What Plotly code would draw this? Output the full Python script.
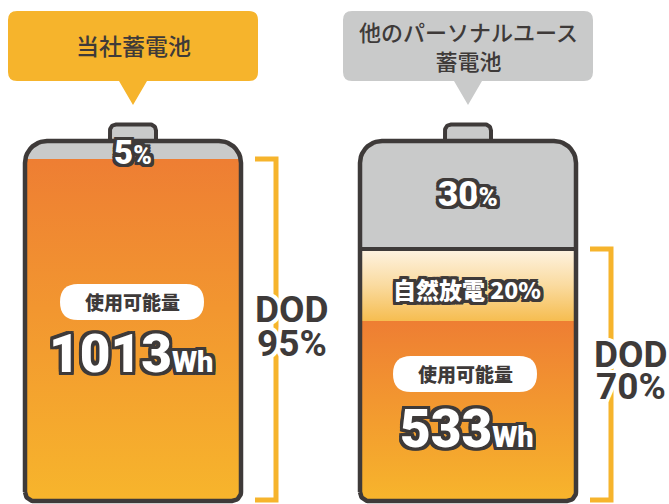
import numpy as np
import plotly.graph_objects as go

# ---------------- data ----------------
batteries = ["当社蓄電池", "他のパーソナルユース蓄電池"]
callout_lines = [["当社蓄電池"], ["他のパーソナルユース", "蓄電池"]]
usable_pct = [95, 50]
self_discharge_pct = [0, 20]
unusable_pct = [5, 30]
dod_pct = [95, 70]
usable_wh = [1013, 533]
usable_label = "使用可能量"
discharge_label = "自然放電"
dod_label = "DOD"

# ---------------- layout constants ----------------
W, H = 669, 504
K = 3.6          # pixels per percent
BASE = 501       # pixel row of 0 %
centers = [133, 468]
HW = 108         # half body width (px)
DARK = "#3E3A39"
GRAY = "#C9CACA"
YEL = "#F6B42C"
ORANGE_TOP = "#EE7E33"
ORANGE_BOT = "#F7B52C"
CJK = "Noto Sans CJK JP"
NUM = "Roboto, Liberation Sans, sans-serif"


def yd(py):
    """pixel row -> data value (percent)"""
    return (BASE - py) / K


def rounded_poly(cx, hw, y0, y1, rt, rb, n=12):
    L, R = cx - hw, cx + hw
    xs, ys = [], []
    if rb > 0:
        for cxc, a0, a1 in [(L + rb, np.pi, 1.5 * np.pi), (R - rb, 1.5 * np.pi, 2 * np.pi)]:
            t = np.linspace(a0, a1, n)
            xs += list(cxc + rb * np.cos(t))
            ys += list(y0 + rb / K + rb / K * np.sin(t))
    else:
        xs += [L, R]
        ys += [y0, y0]
    if rt > 0:
        for cxc, a0, a1 in [(R - rt, 0, 0.5 * np.pi), (L + rt, 0.5 * np.pi, np.pi)]:
            t = np.linspace(a0, a1, n)
            xs += list(cxc + rt * np.cos(t))
            ys += list(y1 - rt / K + rt / K * np.sin(t))
    else:
        xs += [R, L]
        ys += [y1, y1]
    xs.append(xs[0])
    ys.append(ys[0])
    return xs, ys


def outline(color, w):
    pts = []
    for dx in (-w, -w / 2, 0, w / 2, w):
        for dy in (-w, -w / 2, 0, w / 2, w):
            if dx == 0 and dy == 0:
                continue
            pts.append(f"{dx}px {dy}px 0 {color}")
    return ", ".join(pts)


def rrect_path(x0, y0, x1, y1, r, tail=None):
    """pixel coords -> svg path in data coords (Q corners)."""
    def P(x, y):
        return f"{x},{yd(y)}"
    p = f"M{P(x0 + r, y0)} L{P(x1 - r, y0)} Q{P(x1, y0)} {P(x1, y0 + r)} "
    p += f"L{P(x1, y1 - r)} Q{P(x1, y1)} {P(x1 - r, y1)} "
    if tail:
        tx, tw, ty = tail
        p += f"L{P(tx + tw, y1)} L{P(tx, ty)} L{P(tx - tw, y1)} "
    p += f"L{P(x0 + r, y1)} Q{P(x0, y1)} {P(x0, y1 - r)} "
    p += f"L{P(x0, y0 + r)} Q{P(x0, y0)} {P(x0 + r, y0)} Z"
    return p


fig = go.Figure()
shapes = []
ann = []

RT, RB = 22, 9
for i, cx in enumerate(centers):
    u = usable_pct[i]
    sd = self_discharge_pct[i]
    top = u + sd
    # usable (gradient)
    xs, ys = rounded_poly(cx, HW, 0, u, 0, RB)
    fig.add_trace(go.Scatter(x=xs, y=ys, mode="lines", fill="toself", line=dict(width=0),
                             fillgradient=dict(type="vertical",
                                               colorscale=[[0, ORANGE_BOT], [1, ORANGE_TOP]]),
                             hoverinfo="skip", showlegend=False))
    if sd > 0:
        xs, ys = rounded_poly(cx, HW, u, top, 0, 0)
        fig.add_trace(go.Scatter(x=xs, y=ys, mode="lines", fill="toself", line=dict(width=0),
                                 fillgradient=dict(type="vertical",
                                                   colorscale=[[0, "#F6BD50"], [0.5, "#FADBA0"], [1, "#FEF3E2"]]),
                                 hoverinfo="skip", showlegend=False))
    # unusable gray
    xs, ys = rounded_poly(cx, HW, top, top + unusable_pct[i], RT, 0)
    fig.add_trace(go.Scatter(x=xs, y=ys, mode="lines", fill="toself", fillcolor=GRAY,
                             line=dict(width=0), hoverinfo="skip", showlegend=False))
    if sd > 0:
        fig.add_trace(go.Scatter(x=[cx - HW, cx + HW], y=[top, top], mode="lines",
                                 line=dict(color=DARK, width=4), hoverinfo="skip", showlegend=False))
    # cap
    total = top + unusable_pct[i]
    xs, ys = rounded_poly(cx, 23, total, total + 16.5 / K, 6, 0)
    fig.add_trace(go.Scatter(x=xs, y=ys, mode="lines", fill="toself", fillcolor=GRAY,
                             line=dict(color=DARK, width=4), hoverinfo="skip", showlegend=False))
    # body outline
    xs, ys = rounded_poly(cx, HW, 0, total, RT, RB)
    fig.add_trace(go.Scatter(x=xs, y=ys, mode="lines", line=dict(color=DARK, width=4.5),
                             hoverinfo="skip", showlegend=False))
    # DOD bracket
    bx0, bx1 = cx + HW + 14, cx + HW + 35
    fig.add_trace(go.Scatter(x=[bx0, bx1, bx1, bx0], y=[dod_pct[i], dod_pct[i], 0.3, 0.3],
                             mode="lines", line=dict(color=YEL, width=5),
                             hoverinfo="skip", showlegend=False))

# callouts
shapes.append(dict(type="path", path=rrect_path(8, 11, 258, 81, 9, tail=(133, 14, 105)),
                   fillcolor=YEL, line=dict(width=0), layer="below"))
shapes.append(dict(type="path", path=rrect_path(343, 11, 593, 81, 9, tail=(468, 14, 105)),
                   fillcolor=GRAY, line=dict(width=0), layer="below"))
ann.append(dict(x=133, y=yd(45), text="<br>".join(callout_lines[0]),
                font=dict(family=CJK, size=23, color=DARK, weight=500)))
ann.append(dict(x=468, y=yd(45), text="<br>".join(callout_lines[1]),
                font=dict(family=CJK, size=22, color=DARK, weight=500)))

# pills
for (pcx, pcy) in [(132, 302), (465, 374)]:
    shapes.append(dict(type="path", path=rrect_path(pcx - 72, pcy - 18, pcx + 72, pcy + 18, 18),
                       fillcolor="white", line=dict(width=0), layer="above"))
    ann.append(dict(x=pcx, y=yd(pcy - 1), text=usable_label,
                    font=dict(family=CJK, size=19, color=DARK, weight=900)))

white_out = dict(color="white", shadow=outline(DARK, 3))
# percentage labels
ann.append(dict(x=133, y=yd(152),
                text=f"{unusable_pct[0]}<span style='font-size:25px'>%</span>",
                font=dict(family=NUM, size=33, weight=900, **white_out)))
ann.append(dict(x=468, y=yd(194),
                text=f"{unusable_pct[1]}<span style='font-size:26px'>%</span>",
                font=dict(family=NUM, size=35, weight=900, **white_out)))
ann.append(dict(x=467, y=yd(289), text=f"{discharge_label} {self_discharge_pct[1]}%",
                font=dict(family=CJK, size=23, weight=900, **white_out)))
# Wh values
for (vx, vy), wh in zip([(131, 354), (467, 429)], usable_wh):
    ann.append(dict(x=vx, y=yd(vy),
                    text=f"{wh}<span style='font-size:29px'>Wh</span>",
                    font=dict(family=NUM, size=53, weight=900, **white_out)))
# DOD labels
for (dx_, dy1, dy2), d in zip([(292, 309, 343), (631, 354, 386)], dod_pct):
    for yy, tt in [(dy1, dod_label), (dy2, f"{d}%")]:
        ann.append(dict(x=dx_, y=yd(yy), text=tt,
                        font=dict(family=NUM, size=37, weight="bold", color=DARK,
                                  shadow=outline("white", 3))))

for a in ann:
    a.update(showarrow=False, xanchor="center", yanchor="middle", xref="x", yref="y")

fig.update_layout(
    width=W, height=H, margin=dict(l=0, r=0, t=0, b=0),
    paper_bgcolor="white", plot_bgcolor="white",
    xaxis=dict(range=[0, W], visible=False, fixedrange=True),
    yaxis=dict(range=[yd(H), yd(0)], visible=False, fixedrange=True),
    shapes=shapes, annotations=ann, showlegend=False,
)
fig.write_html("out.html", post_script="document.body.style.margin='0';",
               config={"displayModeBar": False})
